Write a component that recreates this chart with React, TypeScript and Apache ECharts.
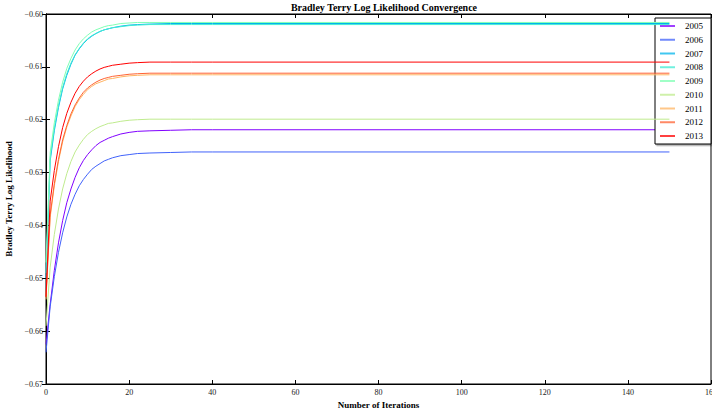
import React, { useEffect, useRef } from "react";
import * as echarts from "echarts";

const ITERS = [0, 1, 2, 3, 4, 5, 6, 7, 8, 9, 10, 11, 12, 13, 14, 15, 16, 18, 20, 22, 25, 30, 35, 40, 150];

const YEARS = ["2005", "2006", "2007", "2008", "2009", "2010", "2011", "2012", "2013"];

const COLORS = ["#8000ff", "#4062fa", "#00b4eb", "#40ebd4", "#80ffb4", "#bfeb8e", "#ffb462", "#ff6232", "#ff0000"];

const V2005 = [-0.6625, -0.6549, -0.6485, -0.6433, -0.6391, -0.6357, -0.6331, -0.6309, -0.6291, -0.6277, -0.6266, -0.6257, -0.6249, -0.6243, -0.6239, -0.6235, -0.6232, -0.6227, -0.6224, -0.6222, -0.6221, -0.622, -0.6219, -0.6219, -0.6219];
const V2006 = [-0.664, -0.6554, -0.6497, -0.6451, -0.6414, -0.6384, -0.636, -0.6341, -0.6325, -0.6313, -0.6303, -0.6294, -0.6288, -0.6283, -0.6278, -0.6275, -0.6272, -0.6268, -0.6266, -0.6264, -0.6263, -0.6262, -0.6261, -0.6261, -0.6261];
const V2007 = [-0.65, -0.6278, -0.6221, -0.6177, -0.6142, -0.6116, -0.6095, -0.6078, -0.6066, -0.6056, -0.6048, -0.6042, -0.6037, -0.6033, -0.603, -0.6028, -0.6026, -0.6023, -0.6021, -0.602, -0.6019, -0.6018, -0.6018, -0.6018, -0.6018];
const V2008 = [-0.649, -0.6272, -0.6216, -0.6173, -0.6139, -0.6113, -0.6093, -0.6077, -0.6065, -0.6055, -0.6047, -0.6041, -0.6037, -0.6033, -0.603, -0.6028, -0.6026, -0.6024, -0.6022, -0.6021, -0.602, -0.602, -0.602, -0.602, -0.602];
const V2009 = [-0.647, -0.6262, -0.6206, -0.6163, -0.6129, -0.6103, -0.6084, -0.6068, -0.6056, -0.6047, -0.604, -0.6034, -0.603, -0.6027, -0.6024, -0.6022, -0.6021, -0.6018, -0.6017, -0.6016, -0.6016, -0.6016, -0.6016, -0.6016, -0.6016];
const V2010 = [-0.659, -0.6479, -0.6417, -0.6369, -0.6331, -0.6302, -0.6279, -0.6261, -0.6248, -0.6237, -0.6228, -0.6222, -0.6217, -0.6213, -0.621, -0.6207, -0.6206, -0.6203, -0.6201, -0.62, -0.6199, -0.6199, -0.6199, -0.6199, -0.6199];
const V2011 = [-0.654, -0.6385, -0.6325, -0.6279, -0.6242, -0.6214, -0.6193, -0.6175, -0.6162, -0.6152, -0.6143, -0.6137, -0.6132, -0.6129, -0.6126, -0.6123, -0.6122, -0.6119, -0.6117, -0.6116, -0.6115, -0.6115, -0.6115, -0.6115, -0.6115];
const V2012 = [-0.6535, -0.638, -0.6321, -0.6275, -0.6238, -0.6211, -0.6189, -0.6172, -0.6159, -0.6148, -0.614, -0.6134, -0.6129, -0.6125, -0.6122, -0.612, -0.6118, -0.6116, -0.6114, -0.6113, -0.6112, -0.6112, -0.6112, -0.6112, -0.6112];
const V2013 = [-0.6535, -0.6354, -0.6296, -0.6251, -0.6215, -0.6188, -0.6167, -0.615, -0.6137, -0.6127, -0.6119, -0.6113, -0.6108, -0.6104, -0.6101, -0.6099, -0.6097, -0.6095, -0.6093, -0.6092, -0.6091, -0.6091, -0.6091, -0.6091, -0.6091];

const VALUES = [V2005, V2006, V2007, V2008, V2009, V2010, V2011, V2012, V2013];

const TITLE = "Bradley Terry Log Likelihood Convergence";
const X_NAME = "Number of Iterations";
const Y_NAME = "Bradley Terry Log Likelihood";

const FONT = "'Liberation Serif', 'DejaVu Serif', serif";

export default function App() {
  const ref = useRef<HTMLDivElement>(null);

  useEffect(() => {
    document.body.style.margin = "0";
    document.documentElement.style.overflow = "hidden";
    document.body.style.overflow = "hidden";
    if (!ref.current) return;
    const chart = echarts.init(ref.current, null, { renderer: "svg", width: 712, height: 411 });

    const fmtY = (v: number) => v.toFixed(2).replace("-", "\u2212");

    const series = YEARS.map((y, i) => ({
      name: y,
      type: "line",
      xAxisIndex: 0,
      yAxisIndex: 0,
      data: ITERS.map((it, k) => [it, VALUES[i][k]]),
      symbol: "none",
      lineStyle: { color: COLORS[i], width: 1 },
      itemStyle: { color: COLORS[i] },
      z: 2 + i,
    }));

    chart.setOption({
      animation: false,
      backgroundColor: "#fff",
      textStyle: { fontFamily: FONT },
      title: {
        text: TITLE,
        left: 379,
        textAlign: "center",
        top: -3,
        textStyle: { fontFamily: FONT, fontSize: 10, fontWeight: "bold", color: "#000" },
      },
      legend: {
        orient: "vertical",
        right: 1,
        top: 18,
        padding: [3, 8, 3, 5],
        icon: "rect",
        itemWidth: 15,
        itemHeight: 2,
        itemGap: 3.75,
        backgroundColor: "#fff",
        borderColor: "#000",
        borderWidth: 1,
        shadowColor: "rgba(0,0,0,0.35)",
        shadowOffsetX: 1.5,
        shadowOffsetY: 1.5,
        shadowBlur: 0,
        textStyle: { fontFamily: FONT, fontSize: 9, lineHeight: 10, color: "#000", padding: [0, 0, 0, 5] },
        data: YEARS.map((y, i) => ({ name: y, itemStyle: { color: COLORS[i], opacity: 0.75 } })),
      },
      grid: {
        left: 46,
        right: 1,
        top: 14,
        bottom: 27,
        show: true,
        borderColor: "#000",
        borderWidth: 1,
        containLabel: false,
        outerBoundsMode: "none",
      },
      xAxis: [
        {
          type: "value",
          min: 0,
          max: 160,
          interval: 20,
          name: X_NAME,
          nameLocation: "middle",
          nameGap: 12,
          nameTextStyle: { fontFamily: FONT, fontSize: 9, fontWeight: "bold", color: "#000" },
          axisLine: { show: true, lineStyle: { color: "#000", width: 1 } },
          axisTick: { show: true, inside: true, length: 4, lineStyle: { color: "#000" } },
          axisLabel: { fontFamily: FONT, fontSize: 8, color: "#222", margin: 4 },
          splitLine: { show: false },
        },
        {
          type: "value",
          position: "top",
          min: 0,
          max: 160,
          interval: 20,
          axisLine: { show: true, lineStyle: { color: "#000", width: 1 } },
          axisTick: { show: true, inside: true, length: 4, lineStyle: { color: "#000" } },
          axisLabel: { show: false },
          splitLine: { show: false },
        },
      ],
      yAxis: [
        {
          type: "value",
          min: -0.67,
          max: -0.6,
          interval: 0.01,
          name: Y_NAME,
          nameLocation: "middle",
          nameGap: 21,
          nameTextStyle: { fontFamily: FONT, fontSize: 9, fontWeight: "bold", color: "#000" },
          axisLine: { show: true, lineStyle: { color: "#000", width: 1 } },
          axisTick: { show: true, inside: true, length: 4, lineStyle: { color: "#000" } },
          axisLabel: { fontFamily: FONT, fontSize: 8, color: "#222", margin: 3, formatter: fmtY },
          splitLine: { show: false },
        },
        {
          type: "value",
          position: "right",
          min: -0.67,
          max: -0.6,
          interval: 0.01,
          axisLine: { show: true, lineStyle: { color: "#000", width: 1 } },
          axisTick: { show: true, inside: true, length: 4, lineStyle: { color: "#000" } },
          axisLabel: { show: false },
          splitLine: { show: false },
        },
      ],
      series,
    });

    return () => chart.dispose();
  }, []);

  return (
    <div
      ref={ref}
      style={{ position: "fixed", left: 0, top: 0, width: 712, height: 411, overflow: "hidden" }}
    />
  );
}
